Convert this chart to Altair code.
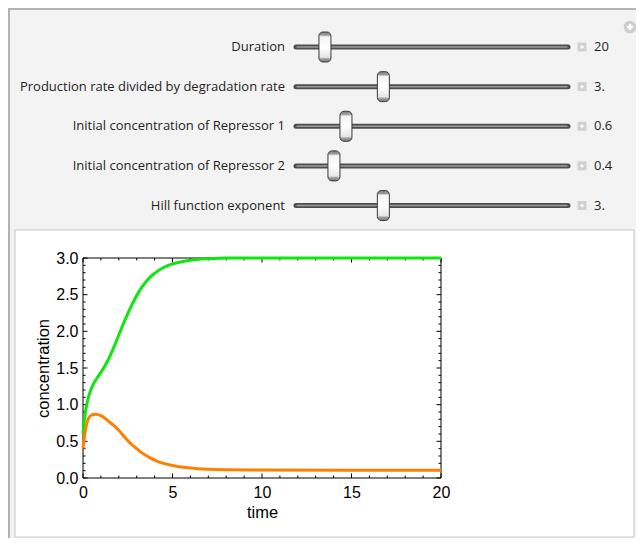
import altair as alt
import pandas as pd

# ---- curve data ----
t_green = [0, 0.1, 0.2, 0.3, 0.5, 0.75, 1.0, 1.25, 1.5, 1.75, 2.0, 2.25, 2.5, 2.75,
           3.0, 3.25, 3.5, 3.75, 4.0, 4.5, 5.0, 5.5, 6.0, 7.0, 8.0, 10, 20]
c_green = [0.60, 0.84, 0.99, 1.10, 1.24, 1.35, 1.44, 1.54, 1.66, 1.80, 1.95, 2.10, 2.24, 2.37,
           2.49, 2.59, 2.67, 2.74, 2.79, 2.87, 2.92, 2.95, 2.97, 2.99, 3.0, 3.0, 3.0]
t_orange = [0, 0.1, 0.2, 0.3, 0.5, 0.7, 1.0, 1.25, 1.5, 1.75, 2.0, 2.25, 2.5, 2.75,
            3.0, 3.25, 3.5, 3.75, 4.0, 4.5, 5.0, 5.5, 6.0, 7.0, 8.0, 10, 20]
c_orange = [0.40, 0.60, 0.73, 0.81, 0.86, 0.87, 0.85, 0.81, 0.76, 0.71, 0.65, 0.58, 0.51, 0.45,
            0.40, 0.35, 0.31, 0.275, 0.245, 0.20, 0.17, 0.15, 0.135, 0.118, 0.111, 0.108, 0.107]

x_major = [0, 5, 10, 15, 20]
x_minor = [1, 2, 3, 4, 6, 7, 8, 9, 11, 12, 13, 14, 16, 17, 18, 19]
y_major = [0.0, 0.5, 1.0, 1.5, 2.0, 2.5, 3.0]
y_minor = [0.1, 0.2, 0.3, 0.4, 0.6, 0.7, 0.8, 0.9, 1.1, 1.2, 1.3, 1.4, 1.6, 1.7, 1.8, 1.9,
           2.1, 2.2, 2.3, 2.4, 2.6, 2.7, 2.8, 2.9]

# ---- controls ----
control_labels = ["Duration", "Production rate divided by degradation rate",
                  "Initial concentration of Repressor 1", "Initial concentration of Repressor 2",
                  "Hill function exponent"]
control_values = ["20", "3.", "0.6", "0.4", "3."]
knob_fraction = [0.106, 0.32, 0.183, 0.139, 0.32]

W, H = 358, 220

curves = pd.concat([
    pd.DataFrame({"t": t_green, "c": c_green, "s": "Repressor 1"}),
    pd.DataFrame({"t": t_orange, "c": c_orange, "s": "Repressor 2"}),
])
controls = pd.DataFrame({"label": control_labels, "value": control_values, "frac": knob_fraction})
one = pd.DataFrame({"a": [0]})

xs = alt.Scale(domain=[0, 20], nice=False, zero=False)
ys = alt.Scale(domain=[0, 3], nice=False, zero=False)
rows = alt.Scale(type="point", domain=control_labels, range=[-211, -52.5], padding=0)
row_y = alt.Y("label:N", scale=rows, axis=None, sort=control_labels)

border_left = alt.Chart(one).mark_rule(color="#b3b3b3", strokeWidth=2).encode(
    x=alt.value(-74), y=alt.value(-250), y2=alt.value(280))
border_top = alt.Chart(one).mark_rule(color="#b3b3b3", strokeWidth=2).encode(
    x=alt.value(-75), x2=alt.value(553), y=alt.value(-249))

white_box = alt.Chart(one).mark_rect(fill="white", stroke="#c6c6c6", strokeWidth=1).encode(
    x=alt.value(-68), x2=alt.value(551), y=alt.value(-28), y2=alt.value(279))

frame = alt.Chart(one).mark_rect(fill=None, stroke="black", strokeWidth=1).encode(
    x=alt.value(0), x2=alt.value(W), y=alt.value(0), y2=alt.value(H))

def xticks(vals, ln):
    d = pd.DataFrame({"t": vals})
    b = alt.Chart(d).mark_rule(color="black", strokeWidth=1).encode(
        x=alt.X("t:Q", scale=xs, axis=None), y=alt.value(H), y2=alt.value(H - ln))
    tp = alt.Chart(d).mark_rule(color="black", strokeWidth=1).encode(
        x=alt.X("t:Q", scale=xs, axis=None), y=alt.value(0), y2=alt.value(ln))
    return [b, tp]

def yticks(vals, ln):
    d = pd.DataFrame({"c": vals})
    l = alt.Chart(d).mark_rule(color="black", strokeWidth=1).encode(
        y=alt.Y("c:Q", scale=ys, axis=None), x=alt.value(0), x2=alt.value(ln))
    r = alt.Chart(d).mark_rule(color="black", strokeWidth=1).encode(
        y=alt.Y("c:Q", scale=ys, axis=None), x=alt.value(W), x2=alt.value(W - ln))
    return [l, r]

ticks = xticks(x_major, 4.5) + xticks(x_minor, 2.5) + yticks(y_major, 4.5) + yticks(y_minor, 2.5)

lines = alt.Chart(curves).mark_line(strokeWidth=3, interpolate="monotone").encode(
    x=alt.X("t:Q", scale=xs, title="time",
            axis=alt.Axis(values=x_major, ticks=False, tickSize=0, domain=False, grid=False,
                          labelFlush=False, labelPadding=6, titlePadding=4, format="d",
                          zindex=2)),
    y=alt.Y("c:Q", scale=ys, title="concentration",
            axis=alt.Axis(values=y_major, ticks=False, tickSize=0, domain=False, grid=False,
                          labelPadding=5, titlePadding=4, format=".1f", zindex=2)),
    color=alt.Color("s:N", scale=alt.Scale(domain=["Repressor 1", "Repressor 2"],
                                           range=["#0ce80c", "#ff8000"]), legend=None),
)

label_text = alt.Chart(controls).mark_text(
    align="right", baseline="middle", font="Open Sans", fontSize=13, color="#1e1e1e"
).encode(x=alt.value(202), y=row_y, text="label:N")

track_outer = alt.Chart(controls).mark_rule(color="#4e4e4e", strokeWidth=5, strokeCap="round").encode(
    x=alt.value(213), x2=alt.value(485), y=row_y)
track_inner = alt.Chart(controls).mark_rule(color="#9c9c9c", strokeWidth=1.5, strokeCap="round").encode(
    x=alt.value(214), x2=alt.value(484), y=row_y)

knob_fill = alt.Gradient(
    gradient="linear", x1=0, x2=0, y1=0, y2=1,
    stops=[alt.GradientStop(color="#7d7d7d", offset=0),
           alt.GradientStop(color="#9a9a9a", offset=0.1),
           alt.GradientStop(color="#f4f4f4", offset=0.16),
           alt.GradientStop(color="#ffffff", offset=0.5),
           alt.GradientStop(color="#e6e6e6", offset=0.84),
           alt.GradientStop(color="#9a9a9a", offset=0.9),
           alt.GradientStop(color="#7d7d7d", offset=1)])
knobs = alt.Chart(controls).mark_tick(
    thickness=12, size=30, cornerRadius=4, color=knob_fill, stroke="#3a3a3a",
    strokeWidth=1, opacity=1
).encode(x=alt.X("frac:Q", scale=alt.Scale(domain=[0, 1], range=[213, 486]), axis=None), y=row_y)

plus_box = alt.Chart(controls).mark_square(size=80, color="#d0d0d0", opacity=1).encode(
    x=alt.value(499), y=row_y)
plus_sign = alt.Chart(controls).mark_point(shape="cross", filled=True, size=12, color="white",
                                           opacity=1).encode(x=alt.value(499), y=row_y)
value_text = alt.Chart(controls).mark_text(
    align="left", baseline="middle", font="Open Sans", fontSize=13, color="#1e1e1e"
).encode(x=alt.value(511), y=row_y, text="value:N")

icon = alt.Chart(one).mark_circle(size=160, color="#cdcdcd", opacity=1).encode(
    x=alt.value(547), y=alt.value(-231))
icon_plus = alt.Chart(one).mark_point(shape="cross", filled=True, size=36, color="white",
                                      opacity=1).encode(x=alt.value(547), y=alt.value(-231))

chart = alt.layer(
    white_box, border_left, border_top, frame, *ticks, lines,
    track_outer, track_inner, knobs, label_text, plus_box, plus_sign, value_text,
    icon, icon_plus
).resolve_scale(x="independent", y="independent").properties(
    width=W, height=H,
    autosize=alt.AutoSizeParams(type="none"),
    padding={"left": 75, "top": 250, "right": 195, "bottom": 60},
    background="#f3f3f3",
).configure_view(stroke=None).configure_axis(
    labelFont="Liberation Sans", labelFontSize=16, labelColor="black",
    titleFont="Liberation Sans", titleFontSize=16.5, titleFontWeight="normal", titleColor="black",
)

chart.save("out.html", embed_options={"renderer": "svg", "actions": False})
